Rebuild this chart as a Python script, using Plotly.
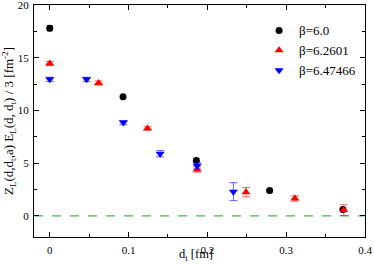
import plotly.graph_objects as go

# beta = 6.0
x_b60 = [0.0, 0.093, 0.186, 0.279, 0.372]
y_b60 = [17.8, 11.3, 5.25, 2.4, 0.6]
e_b60 = [0.25, 0.15, 0.15, 0.12, 0.2]

# beta = 6.2601
x_b626 = [0.0, 0.062, 0.124, 0.187, 0.249, 0.311, 0.373]
y_b626 = [14.45, 12.6, 8.3, 4.4, 2.25, 1.65, 0.55]
e_b626 = [0.2, 0.2, 0.15, 0.25, 0.45, 0.25, 0.5]

# beta = 6.47466
x_b647 = [0.0, 0.0467, 0.0934, 0.140, 0.187, 0.233]
y_b647 = [12.95, 12.95, 8.85, 5.9, 4.75, 2.3]
e_b647 = [0.2, 0.2, 0.2, 0.3, 0.3, 0.85]

zero_x = [-0.02, 0.4]
zero_y = [0, 0]

x_title = "d<sub>t</sub> [fm]"
y_title = "Z<sub>L</sub>(d,d<sub>t</sub>,a) E<sub>L</sub>(d, d<sub>t</sub>) / 3 [fm<sup>-2</sup>]"

font = "Liberation Serif"

fig = go.Figure()
fig.add_trace(go.Scatter(x=zero_x, y=zero_y, mode="lines",
                         line=dict(color="#1fa01f", width=1, dash="dash"),
                         showlegend=False, hoverinfo="skip"))
fig.add_trace(go.Scatter(x=x_b60, y=y_b60, mode="markers", name="β=6.0",
                         marker=dict(symbol="circle", size=7, color="black"),
                         error_y=dict(type="data", array=e_b60, color="rgba(0,0,0,0.7)", thickness=1, width=3)))
fig.add_trace(go.Scatter(x=x_b626, y=y_b626, mode="markers", name="β=6.2601",
                         marker=dict(symbol="triangle-up", size=8, color="red"),
                         error_y=dict(type="data", array=e_b626, color="rgba(255,0,0,0.6)", thickness=1, width=4)))
fig.add_trace(go.Scatter(x=x_b647, y=y_b647, mode="markers", name="β=6.47466",
                         marker=dict(symbol="triangle-down", size=8, color="blue"),
                         error_y=dict(type="data", array=e_b647, color="rgba(0,0,255,0.6)", thickness=1, width=4)))

axis_common = dict(showline=True, linecolor="black", linewidth=1, mirror="allticks",
                   ticks="inside", ticklen=5, tickcolor="black", showgrid=False, zeroline=False,
                   automargin=False, ticklabeloverflow="allow",
                   tickfont=dict(family=font, size=11, color="black"))

fig.update_layout(
    width=374, height=265,
    margin=dict(l=34, r=9, t=5, b=28, autoexpand=False),
    paper_bgcolor="white", plot_bgcolor="white",
    font=dict(family=font, size=12, color="black"),
    xaxis=dict(range=[-0.02, 0.4], tickvals=[0, 0.1, 0.2, 0.3, 0.4],
               ticktext=["0", "0.1", "0.2", "0.3", "0.4"],
               ticklabelstandoff=3,
               minor=dict(ticks="inside", ticklen=3, tickcolor="black", dtick=0.05, tick0=0),
               **axis_common),
    yaxis=dict(range=[-2, 20], tickvals=[0, 5, 10, 15, 20],
               ticklabelstandoff=2,
               minor=dict(ticks="inside", ticklen=3, tickcolor="black", dtick=2.5, tick0=0),
               title=dict(text=y_title, font=dict(family=font, size=13), standoff=0),
               **axis_common),
    legend=dict(x=0.68, y=0.955, xanchor="left", yanchor="top", bgcolor="rgba(0,0,0,0)",
                font=dict(family=font, size=13), itemwidth=30, tracegroupgap=0),
    annotations=[dict(text=x_title, xref="paper", yref="paper", x=0.49, y=-0.1207,
                      xanchor="center", yanchor="bottom", showarrow=False,
                      font=dict(family=font, size=12.5, color="black"))],
)

fig.write_html("out.html", config={"displayModeBar": False},
               post_script="document.body.style.margin='0';document.body.style.overflow='hidden';")
